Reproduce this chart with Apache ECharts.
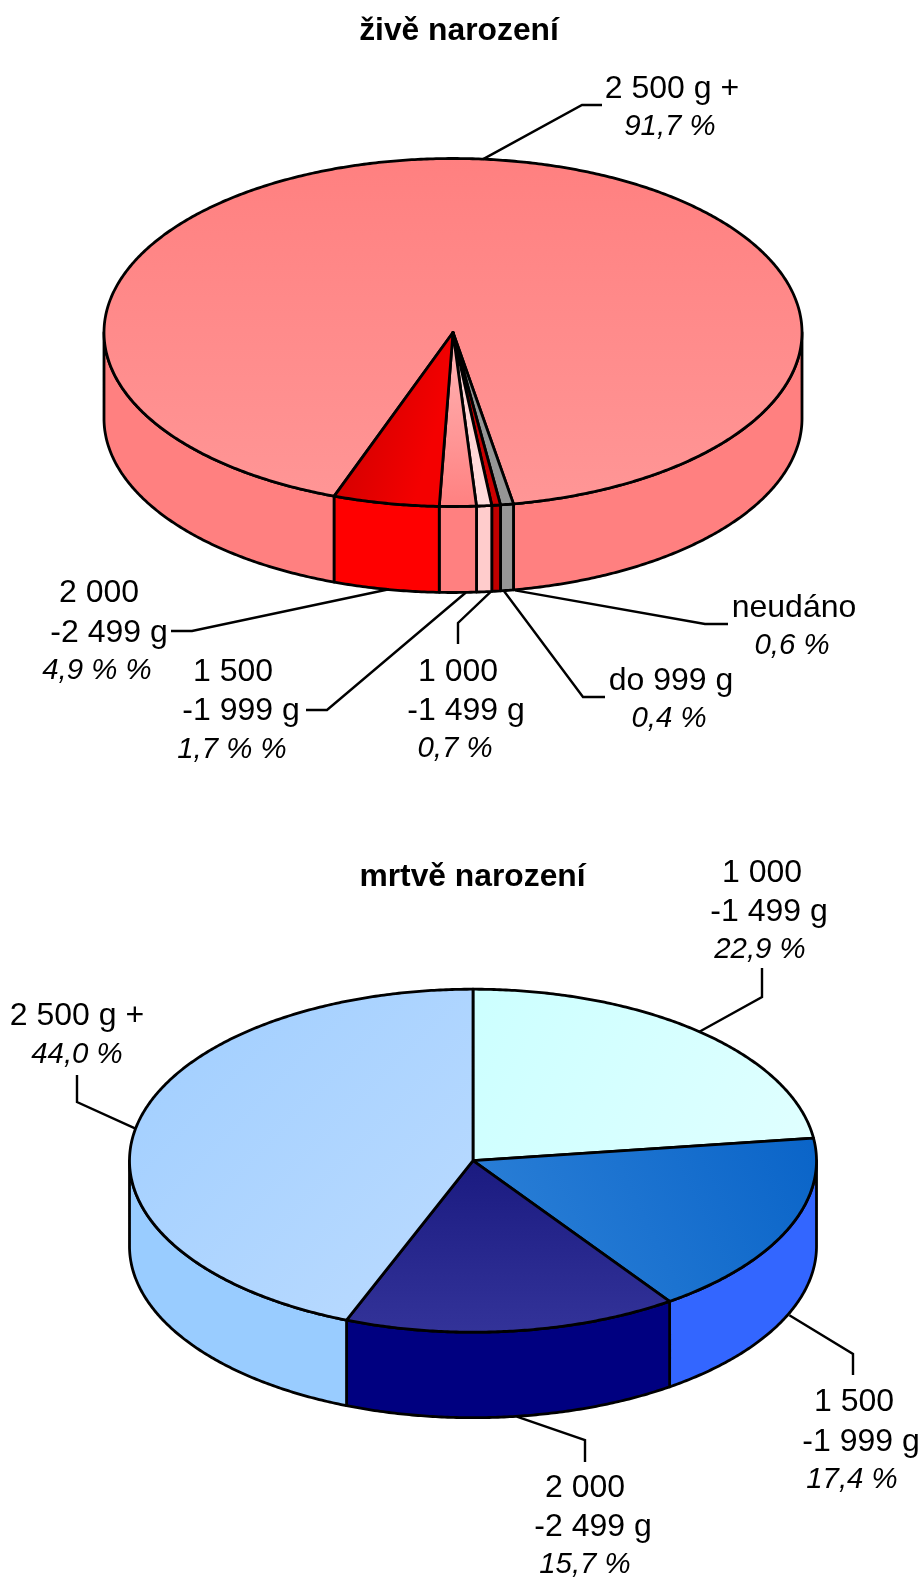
<!DOCTYPE html>
<html><head><meta charset="utf-8">
<style>html,body{margin:0;padding:0;background:#fff}#c{width:923px;height:1578px}</style>
<script src="https://cdn.jsdelivr.net/npm/echarts@6/dist/echarts.min.js"></script>
</head><body><div id="c"></div>
<script>
// ---- data ----
var liveTitle = 'živě narození';
var liveCategories = ['2 500 g +', 'neudáno', 'do 999 g', '1 000\n-1 499 g', '1 500\n-1 999 g', '2 000\n-2 499 g'];
var liveValues = [91.7, 0.6, 0.4, 0.7, 1.7, 4.9];
var liveShareLabels = ['91,7 %', '0,6 %', '0,4 %', '0,7 %', '1,7 % %', '4,9 % %'];

var stillTitle = 'mrtvě narození';
var stillCategories = ['1 000\n-1 499 g', '1 500\n-1 999 g', '2 000\n-2 499 g', '2 500 g +'];
var stillValues = [22.9, 17.4, 15.7, 44.0];
var stillShareLabels = ['22,9 %', '17,4 %', '15,7 %', '44,0 %'];

// ---- styling and layout (not data) ----
var FONT = '"Liberation Sans", Arial, sans-serif';
var livePie = {
  cx: 453, cy: 332.5, rx: 349, ry: 174, depth: 86, start: 199.9,
  wall: ['#FF8080', '#969696', '#C00000', '#FFCCCC', '#FF8080', '#FF0000'],
  top: [[0,0,0,1,'#FF8080','#FF9696'], [0,0,0,1,'#969696','#969696'], [0,0,0,1,'#B80000','#D00000'],
        [0,0,0,1,'#FFD0D0','#FFDCDC'], [0,0,0,1,'#FFB8B8','#FF8080'], [0,0,1,0.2,'#C40000','#F40000']],
  labels: [
    {lines:[[672,89.5]], share:[670,126.5], nudge:0, elbow:[582,105], end:[602,105]},
    {lines:[[794,608]], share:[792,645.5], nudge:8, elbow:[705,624], end:[728,624]},
    {lines:[[671,681]], share:[669,718.5], nudge:8, elbow:[583,697], end:[605,697]},
    {lines:[[458,672],[466,711.5]], share:[455,749], nudge:6.5, elbow:[458,623], end:[458,644]},
    {lines:[[233,672],[241,711.5]], share:[232,749.5], nudge:8, elbow:[327,710], end:[306,710]},
    {lines:[[99,593],[109,633]], share:[97,671], nudge:3, elbow:[192,631], end:[171,631]}
  ]
};
var stillPie = {
  cx: 473, cy: 1160.7, rx: 343.5, ry: 171.5, depth: 85.5, start: 0,
  wall: ['#CCFFFF', '#3366FF', '#000080', '#99CCFF'],
  top: [[0,0,1,1,'#CCFFFF','#E0FFFF'], [1,0,0,1,'#0A64C8','#2E82D8'], [0,0,0,1,'#1A1A80','#333399'], [0,0,1,1,'#A0CEFF','#BBDBFF']],
  labels: [
    {lines:[[762,873],[769,912]], share:[760,949.5], nudge:0, elbow:[762,997], end:[762,968]},
    {lines:[[854,1402.5],[861,1442]], share:[852,1479.5], nudge:2, elbow:[853,1354], end:[853,1375]},
    {lines:[[585,1488],[593,1527]], share:[585,1564.5], nudge:4, elbow:[585,1440], end:[585,1462]},
    {lines:[[77,1016]], share:[77,1054.5], nudge:0, elbow:[77,1102], end:[77,1075]}
  ]
};
var STROKE = {stroke:'#000', lineWidth:2.8, lineJoin:'round'};

function ang(deg){ return deg*Math.PI/180; }
function edge(p, deg, dz){
  return [p.cx + p.rx*Math.sin(ang(deg)), p.cy - p.ry*Math.cos(ang(deg)) + (dz||0)];
}
function arcPts(p, a0, a1, dz){
  var n = Math.max(2, Math.ceil(Math.abs(a1-a0)/0.5)), out = [];
  for (var i=0;i<=n;i++) out.push(edge(p, a0+(a1-a0)*i/n, dz));
  return out;
}
function spans(values, start){
  var sum = values.reduce(function(a,b){return a+b;},0), a = start;
  return values.map(function(v){ var s=[a, a+v/sum*360]; a=s[1]; return s; });
}
function grad(g){
  return new echarts.graphic.LinearGradient(g[0],g[1],g[2],g[3],[{offset:0,color:g[4]},{offset:1,color:g[5]}]);
}
function wallSeries(p, values){
  var sp = spans(values, p.start);
  return {type:'custom', coordinateSystem:'none', silent:true, z:1, animation:false,
    data: values.map(function(v,i){return [v,i];}),
    renderItem:function(params, api){
      var i = api.value(1), s = sp[i], kids = [];
      [[90,270],[450,630]].forEach(function(w){
        var a0=Math.max(s[0],w[0]), a1=Math.min(s[1],w[1]);
        if (a1<=a0) return;
        var pts = arcPts(p,a0,a1,0).concat(arcPts(p,a1,a0,p.depth));
        kids.push({type:'polygon', shape:{points:pts}, style:Object.assign({fill:p.wall[i]},STROKE)});
      });
      return {type:'group', children:kids};
    }};
}
function topSeries(p, values){
  var sp = spans(values, p.start);
  return {type:'custom', coordinateSystem:'none', silent:true, z:2, animation:false,
    data: values.map(function(v,i){return [v,i];}),
    renderItem:function(params, api){
      var i = api.value(1), s = sp[i];
      var pts = [[p.cx,p.cy]].concat(arcPts(p,s[0],s[1],0));
      return {type:'polygon', shape:{points:pts}, style:Object.assign({fill:grad(p.top[i])},STROKE)};
    }};
}
function labelSeries(p, values, cats, shares){
  var sp = spans(values, p.start);
  return {type:'custom', coordinateSystem:'none', silent:true, z:3, animation:false,
    data: values.map(function(v,i){return [v,i];}),
    renderItem:function(params, api){
      var i = api.value(1), L = p.labels[i], s = sp[i], mid = (s[0]+s[1])/2, m = ((mid%360)+360)%360;
      var front = m>90 && m<270;
      var a = edge(p, mid, front ? p.depth : 0);
      a[0] += L.nudge;
      var kids = [{type:'polyline', shape:{points:[a,L.elbow,L.end]}, style:{fill:null,stroke:'#000',lineWidth:2.4,lineJoin:'miter'}}];
      cats[i].split('\n').forEach(function(t,k){
        kids.push({type:'text', style:{text:t,x:L.lines[k][0],y:L.lines[k][1],fill:'#000',
          font:'32px '+FONT, textAlign:'center', textVerticalAlign:'middle'}});
      });
      kids.push({type:'text', style:{text:shares[i],x:L.share[0],y:L.share[1],fill:'#000',
        font:'italic 29.4px '+FONT, textAlign:'center', textVerticalAlign:'middle'}});
      return {type:'group', children:kids};
    }};
}
var chart = echarts.init(document.getElementById('c'), null, {renderer:'canvas', width:923, height:1578});
chart.setOption({
  animation:false, backgroundColor:'#fff',
  title:[
    {text:liveTitle, left:454, top:26, textAlign:'center', textVerticalAlign:'middle', textStyle:{fontFamily:FONT,fontWeight:'bold',fontSize:31.8,color:'#000'}},
    {text:stillTitle, left:467.5, top:872, textAlign:'center', textVerticalAlign:'middle', textStyle:{fontFamily:FONT,fontWeight:'bold',fontSize:31.8,color:'#000'}}
  ],
  series:[
    wallSeries(livePie, liveValues), topSeries(livePie, liveValues), labelSeries(livePie, liveValues, liveCategories, liveShareLabels),
    wallSeries(stillPie, stillValues), topSeries(stillPie, stillValues), labelSeries(stillPie, stillValues, stillCategories, stillShareLabels)
  ]
});
</script></body></html>
